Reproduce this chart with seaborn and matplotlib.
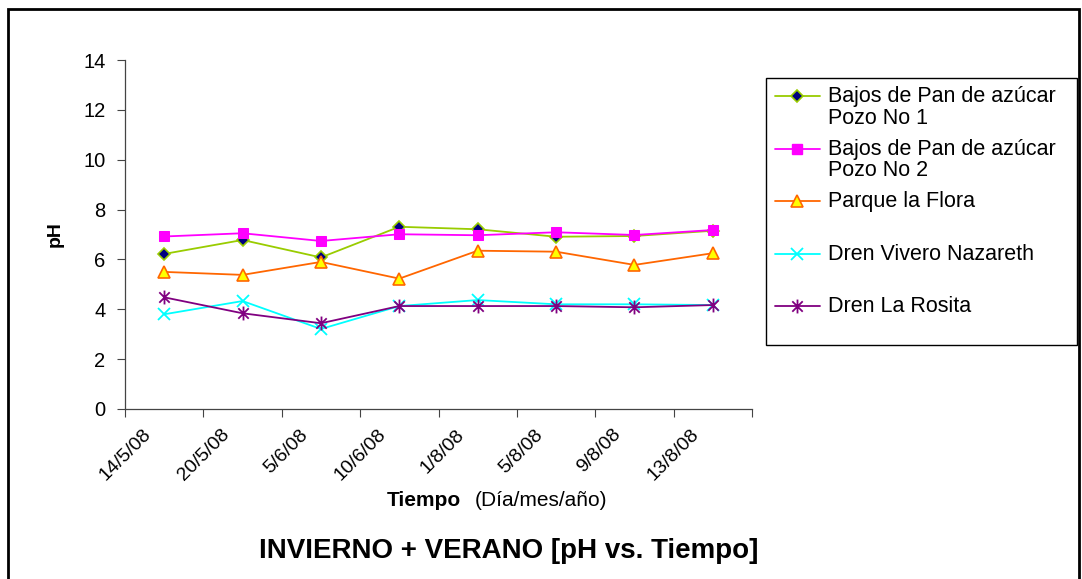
import matplotlib
matplotlib.use("Agg")
import matplotlib.pyplot as plt
from matplotlib.patches import Rectangle
from matplotlib.lines import Line2D
from matplotlib.path import Path
import seaborn as sns
import numpy as np
import pandas as pd

# ---- data ----
fechas = ["14/5/08", "20/5/08", "5/6/08", "10/6/08", "1/8/08", "5/8/08", "9/8/08", "13/8/08"]
pozo1 = [6.22, 6.78, 6.08, 7.31, 7.21, 6.91, 6.94, 7.15]
pozo2 = [6.92, 7.05, 6.74, 7.01, 6.97, 7.09, 6.98, 7.18]
flora = [5.50, 5.38, 5.90, 5.23, 6.35, 6.31, 5.78, 6.25]
vivero = [3.80, 4.33, 3.21, 4.13, 4.37, 4.20, 4.20, 4.17]
rosita = [4.48, 3.84, 3.44, 4.13, 4.13, 4.13, 4.08, 4.17]
series_names = ["Bajos de Pan de azúcar\nPozo No 1", "Bajos de Pan de azúcar\nPozo No 2",
                "Parque la Flora", "Dren Vivero Nazareth", "Dren La Rosita"]
y_ticks = [0, 2, 4, 6, 8, 10, 12, 14]

sns.set_theme(style="white")
plt.rcParams["font.family"] = ["Liberation Sans", "DejaVu Sans"]
plt.rcParams["text.color"] = "black"
plt.rcParams["xtick.color"] = "black"
plt.rcParams["ytick.color"] = "black"
plt.rcParams["axes.labelcolor"] = "black"

W, H = 1082, 579
fig = plt.figure(figsize=(W / 100, H / 100), dpi=100)
ax = fig.add_axes([125 / W, 1 - 409 / H, (752 - 125) / W, (409 - 60) / H])

star = Path([(0, -1), (0, 1), (-0.75, -0.75), (0.75, 0.75), (-0.75, 0.75), (0.75, -0.75)],
            [Path.MOVETO, Path.LINETO, Path.MOVETO, Path.LINETO, Path.MOVETO, Path.LINETO])

styles = [
    dict(color="#99CC00", marker="D", markersize=6, markerfacecolor="#000080", markeredgecolor="#99CC00", markeredgewidth=1.2),
    dict(color="#FF00FF", marker="s", markersize=7.5, markerfacecolor="#FF00FF", markeredgecolor="#FF00FF"),
    dict(color="#FF6600", marker="^", markersize=9, markerfacecolor="#FFFF00", markeredgecolor="#FF6600", markeredgewidth=1.2),
    dict(color="#00FFFF", marker="x", markersize=8, markeredgecolor="#00FFFF", markeredgewidth=1.3),
    dict(color="#800080", marker=star, markersize=10, markeredgecolor="#800080", markeredgewidth=1.3),
]

xpos = np.arange(len(fechas))
for name, vals, st in zip(series_names, [pozo1, pozo2, flora, vivero, rosita], styles):
    df = pd.DataFrame({"x": xpos, "pH": vals})
    sns.lineplot(data=df, x="x", y="pH", ax=ax, label=name, linewidth=1.3, **st)
if ax.get_legend() is not None:
    ax.get_legend().remove()

ax.set_xlim(-0.5, len(fechas) - 0.5)
ax.set_ylim(0, 14)
ax.set_yticks(y_ticks)
ax.set_yticklabels([str(v) for v in y_ticks], fontsize=14.5)
ax.set_xticks(np.arange(-0.5, len(fechas)))
ax.set_xticklabels([])
for i, lab in enumerate(fechas):
    ax.annotate(lab, xy=(xpos[i], 0), xycoords=("data", "axes fraction"),
                xytext=(-22, -17), textcoords="offset pixels",
                rotation=45, ha="right", va="top", rotation_mode="anchor", fontsize=14,
                annotation_clip=False)
ax.tick_params(axis="x", which="major", length=6, width=0.8, color="#444444", direction="out", bottom=True)
ax.tick_params(axis="y", which="major", length=6, width=0.8, color="#444444", direction="out", left=True, pad=8)
for s in ["top", "right"]:
    ax.spines[s].set_visible(False)
for s in ["left", "bottom"]:
    ax.spines[s].set_color("#444444")
    ax.spines[s].set_linewidth(0.9)
ax.grid(False)
ax.set_xlabel("")
ax.set_ylabel("pH", fontsize=14, fontweight="bold", labelpad=14)

# legend (Excel style: key aligned to first text line, equal slots)
fig.add_artist(Rectangle((766 / W, 1 - 345 / H), (1077 - 766) / W, (345 - 78) / H,
                         transform=fig.transFigure, fill=False, edgecolor="black", linewidth=1.0))
slot0, slot = 96, 52.5
for i, (name, st) in enumerate(zip(series_names, styles)):
    yk = 1 - (slot0 + slot * i) / H
    key = Line2D([775 / W, 797 / W, 820 / W], [yk, yk, yk], transform=fig.transFigure,
                 linewidth=1.3, markevery=[1], **st)
    fig.add_artist(key)
    fig.text(828 / W, yk + 10 / H, name, ha="left", va="top", fontsize=15.5, linespacing=1.05)

# outer border
fig.add_artist(Rectangle((8 / W, -0.05), (1079 - 8) / W, 1.05 - 9 / H,
                         transform=fig.transFigure, fill=False, edgecolor="black", linewidth=2.0))

fig.text(461 / W, 1 - 500 / H, "Tiempo", ha="right", va="center", fontsize=15, fontweight="bold")
fig.text(475 / W, 1 - 500 / H, "(Día/mes/año)", ha="left", va="center", fontsize=15)
fig.text(509 / W, 1 - 551 / H, "INVIERNO + VERANO [pH vs. Tiempo]", ha="center", va="center",
         fontsize=20, fontweight="bold")

fig.savefig("out.png", dpi=100, facecolor="white")
